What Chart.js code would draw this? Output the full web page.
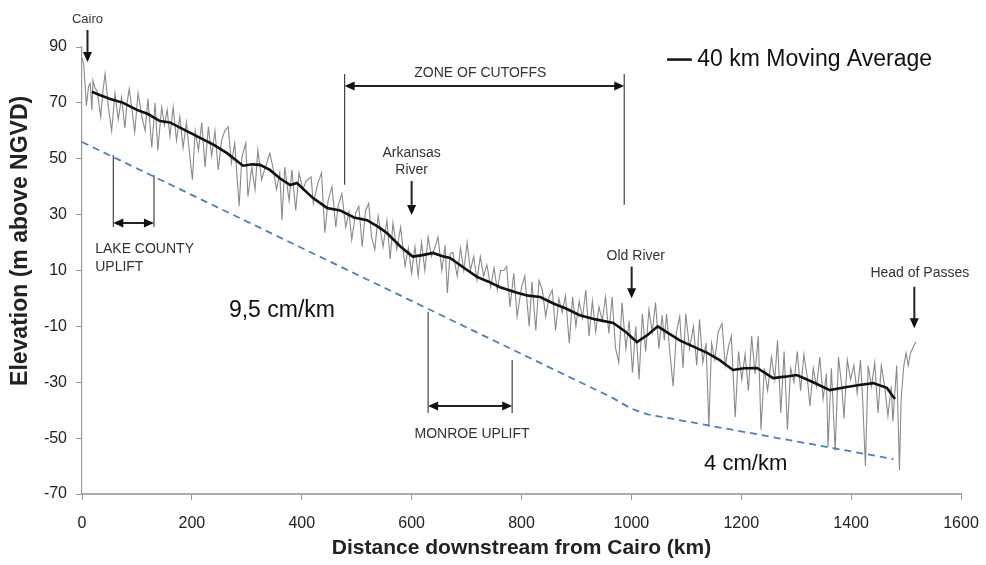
<!DOCTYPE html>
<html>
<head>
<meta charset="utf-8">
<script src="https://cdn.jsdelivr.net/npm/chart.js@4.4.1/dist/chart.umd.min.js"></script>
<style>
  html, body { margin: 0; padding: 0; background: #fff; }
  #wrap { width: 986px; height: 565px; position: relative; }
</style>
</head>
<body>
<div id="wrap"><canvas id="chart"></canvas></div>
<script>
// thalweg elevation (km downstream from Cairo, m above NGVD)
const rawKm = [
  0,3,8,12,15,18,20,24,27,30,
  34,38,42,48,54,60,66,72,78,82,
  86,90,96,102,109,115,120,127,133,138,
  145,150,155,160,166,172,178,184,190,197,
  201,206,212,218,224,230,236,242,248,254,
  260,266,272,278,286,291,298,302,309,315,
  320,327,333,342,348,354,360,364,369,377,
  382,389,395,402,408,417,421,429,436,442,
  448,455,462,466,473,480,486,491,498,504,
  510,516,522,527,533,539,548,555,561,566,
  573,580,588,594,600,606,612,618,624,630,
  636,642,648,655,661,665,670,675,683,689,
  695,701,707,713,719,725,731,737,744,750,
  756,762,768,773,779,786,792,800,806,814,
  819,826,832,838,844,850,856,862,868,874,
  880,887,893,899,905,911,917,923,929,935,
  941,947,953,959,965,971,977,983,990,996,
  1002,1008,1014,1020,1026,1032,1038,1044,1050,1056,
  1060,1064,1070,1076,1082,1088,1094,1099,1106,1113,
  1119,1124,1130,1136,1141,1146,1152,1158,1165,1171,
  1177,1182,1189,1195,1201,1207,1213,1219,1225,1231,
  1236,1242,1248,1255,1261,1266,1272,1278,1284,1290,
  1296,1302,1308,1314,1320,1325,1331,1337,1343,1349,
  1355,1358,1364,1371,1377,1383,1387,1393,1399,1405,
  1411,1417,1421,1426,1431,1437,1443,1449,1455,1461,
  1467,1473,1476,1483,1488,1491,1496,1500,1504,1508,
  1513,1518
];
const rawElev = [
  86,84,69,76,77,67.5,78,75,74.5,71,
  65,74,80.5,68.5,60,73.5,64,72,61,70,
  75,69,59.5,73.5,65,60,71.5,54,70,53,
  68.5,62,67.5,58,68.5,56.5,65,54,63,49.5,
  42.5,60,53,63,47,61.5,51,60,46,56.5,
  60,61.5,48.5,55.5,33,50.5,55.5,36.5,47,39,
  53,42.5,46.5,52,46.5,39,45,28,47,35,
  46,31.5,45,39,42,43.5,34,41,45,23.5,
  35,40,25.5,33,37.5,25.5,31,21,30.5,33,
  18.5,31.5,34,22,17.5,29.5,18.5,28,14,27,
  17.5,25.5,11.5,18,9,18.5,8,20,10,22,
  15,18,22,10,19,2,16,16.5,8,18,
  10,20,10,15,6.5,15,8,12,4,11,
  3,10,10,11.5,-3,9,-6.5,4,8,-10,
  6,-11.5,6.5,3,-6.5,0.5,3,-11.5,0,-5,
  1,-16,0.5,-10,-1,-7,3,-13.5,-1,-12,
  -3,-8,0.5,-12.5,0.5,-17.5,-23,-1.5,-18,-8,
  -26.5,-10,-29,-5.5,-19,-4,-12,-1.5,-18,-6,
  -15,-5.5,-19,-31.5,-12,-6.5,-25,-5.5,-18,-10,
  -24,-7.5,-23,-16,-46,-16,-22,-12,-9,-24,
  -17,-13.5,-42.5,-19,-29,-20,-33,-13.5,-27,-13.5,
  -47,-25,-33,-21,-29,-15,-41,-19,-47,-25,
  -30,-19,-33,-20,-28,-38.5,-25,-31.5,-21,-36,
  -27,-53,-25,-54.5,-21,-31.5,-43,-22,-29,-24,
  -34,-22,-36,-60,-24,-31.5,-23,-41,-24,-31.5,
  -42,-31.5,-44,-24,-61.5,-36,-24,-19.5,-24,-19.5,
  -17.5,-15.5
];

// 40 km moving average
const avgKm = [
  18,30,50,75,100,120,142,160,190,215,
  240,264,293,310,324,342,360,379,391,420,
  446,470,495,519,540,555,580,602,620,639,
  655,670,695,719,740,761,792,812,834,860,
  880,906,935,967,990,1010,1030,1048,1068,1088,
  1110,1138,1160,1185,1205,1229,1258,1280,1301,1331,
  1361,1392,1415,1440,1465,1476,1480
];
const avgElev = [
  74,73,71.5,70,67.5,66,63.5,63,60,57.5,
  55,52,47.5,48,47.8,46,43,40.6,41.3,36,
  32.4,31.5,29,28,25.5,23.4,18.5,15,15.5,16.3,
  15.2,14.5,11,7.7,6,4,2,1,0.5,-2,
  -3.5,-6,-7.5,-8.8,-12,-15.6,-13,-10,-12.5,-15,
  -17,-19.5,-22,-25.6,-25,-24.9,-28.5,-28,-27.4,-30,
  -32.8,-31.7,-31,-30.3,-32,-35,-36
];

// trend of the lowest bed (9,5 cm/km then 4 cm/km)
const bedKm = [0, 965, 1000, 1030, 1477];
const bedElev = [56, -35.5, -39.5, -41.5, -57.5];

const xTicks = [0,200,400,600,800,1000,1200,1400,1600];
const yTicks = [-70,-50,-30,-10,10,30,50,70,90];

const FONT = "'Liberation Sans', Arial, sans-serif";

function pts(xs, ys){ return xs.map((x,i)=>({x:x, y:ys[i]})); }

function head(ctx, x, y, dir){
  ctx.beginPath();
  if(dir==='down'){ ctx.moveTo(x,y); ctx.lineTo(x-4.5,y-10); ctx.lineTo(x+4.5,y-10); }
  else if(dir==='left'){ ctx.moveTo(x,y); ctx.lineTo(x+10,y-4.5); ctx.lineTo(x+10,y+4.5); }
  else { ctx.moveTo(x,y); ctx.lineTo(x-10,y-4.5); ctx.lineTo(x-10,y+4.5); }
  ctx.closePath(); ctx.fill();
}

// labels, arrows and the legend, placed in data units
const notes = {
  id: 'notes',
  afterDraw(chart){
    const ctx = chart.ctx;
    const X = v => chart.scales.x.getPixelForValue(v);
    const Y = v => chart.scales.y.getPixelForValue(v);
    ctx.save();
    ctx.fillStyle = '#333'; ctx.strokeStyle = '#222';
    ctx.textBaseline = 'middle';

    const text = (s, km, v, size, align) => {
      ctx.font = size + 'px ' + FONT;
      ctx.textAlign = align || 'center';
      ctx.fillText(s, X(km), Y(v));
    };
    const down = (km, v1, v2) => {
      ctx.lineWidth = 2; ctx.fillStyle = '#111';
      ctx.beginPath(); ctx.moveTo(X(km), Y(v1)); ctx.lineTo(X(km), Y(v2) - 6); ctx.stroke();
      head(ctx, X(km), Y(v2), 'down');
      ctx.fillStyle = '#333';
    };
    const span = (k1, k2, v) => {
      ctx.lineWidth = 2; ctx.fillStyle = '#111';
      ctx.beginPath(); ctx.moveTo(X(k1) + 6, Y(v)); ctx.lineTo(X(k2) - 6, Y(v)); ctx.stroke();
      head(ctx, X(k1), Y(v), 'left'); head(ctx, X(k2), Y(v), 'right');
      ctx.fillStyle = '#333';
    };
    const vline = (km, v1, v2) => {
      ctx.lineWidth = 1.2; ctx.strokeStyle = '#444';
      ctx.beginPath(); ctx.moveTo(X(km), Y(v1)); ctx.lineTo(X(km), Y(v2)); ctx.stroke();
      ctx.strokeStyle = '#222';
    };

    // Cairo
    text('Cairo', 10, 100, 13);
    down(10, 96.1, 84.6);

    // zone of cutoffs
    text('ZONE OF CUTOFFS', 725, 80.7, 14);
    vline(478, 80.3, 40.7);
    vline(987, 80.3, 33.5);
    span(478, 987, 76);

    // Arkansas River
    text('Arkansas', 600, 52.1, 14);
    text('River', 600, 46, 14);
    down(600, 42, 29.9);

    // Lake County uplift
    vline(57, 51.3, 25.6);
    vline(131, 44.2, 25.6);
    span(57, 131, 27);
    text('LAKE COUNTY', 24, 17.7, 14, 'left');
    text('UPLIFT', 24, 11.1, 14, 'left');

    // Monroe uplift
    vline(630, -4.8, -41);
    vline(783, -22, -41);
    span(630, 783, -38.5);
    text('MONROE UPLIFT', 710, -48.5, 14);

    // Old River
    text('Old River', 1008, 15.2, 14);
    down(1000.5, 11.4, 0.05);

    // Head of Passes
    text('Head of Passes', 1525, 9.2, 14);
    down(1515, 4.2, -10.7);

    // slopes
    ctx.fillStyle = '#111';
    text('9,5 cm/km', 364, -4.5, 23);
    text('4 cm/km', 1208, -59.4, 22);

    // legend
    ctx.strokeStyle = '#111'; ctx.lineWidth = 2.5;
    ctx.beginPath(); ctx.moveTo(X(1065), Y(85.5)); ctx.lineTo(X(1110), Y(85.5)); ctx.stroke();
    text('40 km Moving Average', 1120, 85.3, 23, 'left');

    // y axis title
    ctx.save();
    ctx.translate(21, Y(20.6));
    ctx.rotate(-Math.PI / 2);
    ctx.font = 'bold 23px ' + FONT;
    ctx.textAlign = 'center';
    ctx.fillStyle = '#222';
    ctx.fillText('Elevation (m above NGVD)', 0, 0);
    ctx.restore();

    ctx.restore();
  }
};

new Chart(document.getElementById('chart'), {
  type: 'line',
  data: {
    datasets: [
      { label: '40 km Moving Average', data: pts(avgKm, avgElev), borderColor: '#111',
        borderWidth: 2.6, pointRadius: 0, tension: 0, order: 0 },
      { label: 'bed trend', data: pts(bedKm, bedElev), borderColor: '#4a7ec8',
        borderWidth: 1.8, borderDash: [7, 5], pointRadius: 0, tension: 0, order: 1 },
      { label: 'thalweg', data: pts(rawKm, rawElev), borderColor: '#8a8a8a',
        borderWidth: 1.1, pointRadius: 0, tension: 0, order: 2 }
    ]
  },
  options: {
    responsive: true,
    maintainAspectRatio: false,
    animation: false,
    layout: { padding: { top: 47, right: 25, left: 0, bottom: 0 } },
    plugins: { legend: { display: false }, tooltip: { enabled: false } },
    scales: {
      x: {
        type: 'linear', min: 0, max: 1600,
        afterBuildTicks: s => { s.ticks = xTicks.map(v => ({ value: v })); },
        afterFit: s => { s.height = 71; s.paddingRight = 0; s.paddingLeft = 0; },
        ticks: { font: { family: FONT, size: 16 }, color: '#222', padding: 14,
          callback: v => String(v) },
        grid: { drawOnChartArea: false, drawTicks: true, tickLength: 6, color: '#999' },
        border: { color: '#aaa', width: 2 },
        title: { display: true, text: 'Distance downstream from Cairo (km)', color: '#222',
          font: { family: FONT, size: 21, weight: 'bold' }, padding: { top: 0, bottom: 4 } }
      },
      y: {
        min: -70, max: 90,
        afterBuildTicks: s => { s.ticks = yTicks.map(v => ({ value: v })); },
        afterFit: s => { s.width = 82; },
        ticks: { font: { family: FONT, size: 16 }, color: '#222', padding: 9,
          callback: v => String(v) },
        grid: { drawOnChartArea: false, drawTicks: true, tickLength: 6, color: '#999' },
        border: { color: '#999', width: 1.2 }
      }
    }
  },
  plugins: [notes]
});
</script>
</body>
</html>
